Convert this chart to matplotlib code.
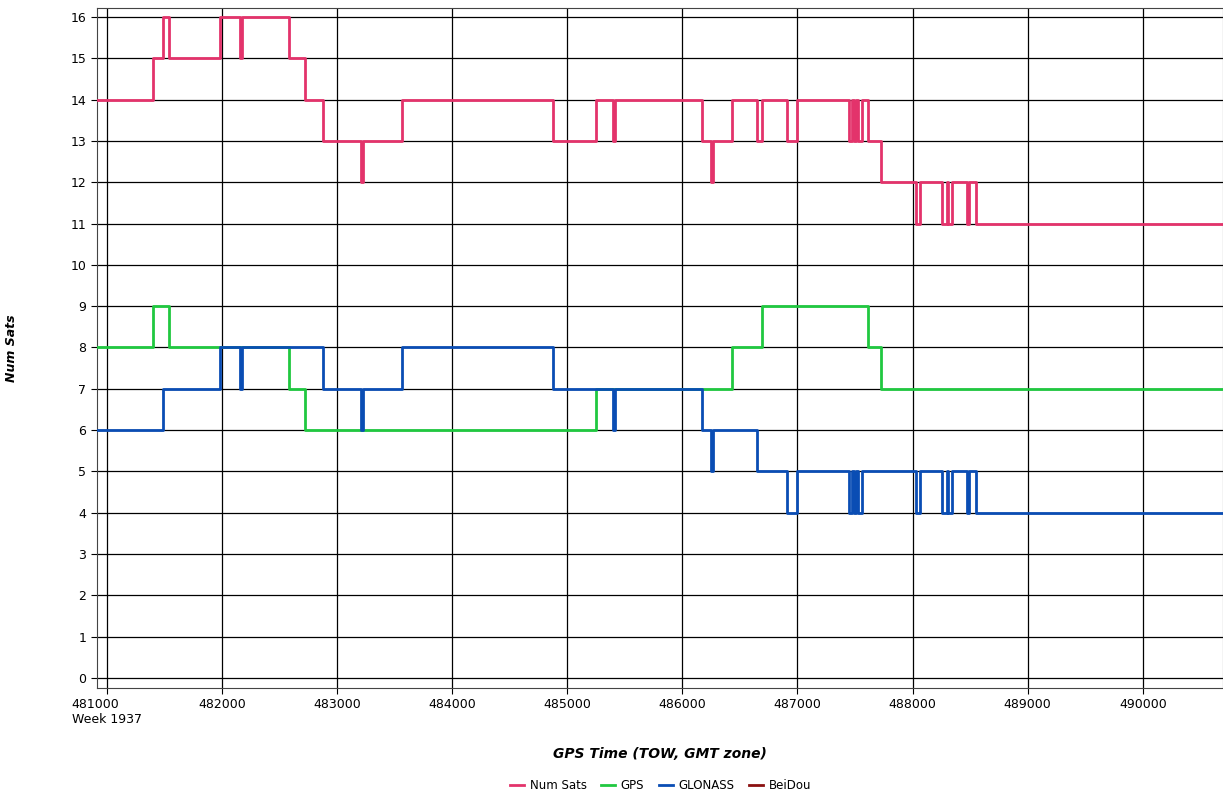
import matplotlib
matplotlib.use("Agg")
import matplotlib.pyplot as plt
import numpy as np

x_end = 490750
# GPS step breakpoints (start time, value)
gps_t = [480900, 481400, 481539, 482581, 482720, 485248, 486430, 486691, 487612, 487725]
gps_v = [8, 9, 8, 7, 6, 7, 8, 9, 8, 7]
# GLONASS step breakpoints
glo_t = [480900, 481487, 481982, 482155, 482175, 482877, 483207, 483230, 483563, 484875,
         485396, 485416, 486169, 486248, 486270, 486647, 486908, 486995,
         487447, 487473, 487490, 487510, 487525, 487560,
         488029, 488064, 488254, 488298, 488307, 488341, 488472, 488489, 488550]
glo_v = [6, 7, 8, 7, 8, 7, 6, 7, 8, 7,
         6, 7, 6, 5, 6, 5, 4, 5,
         4, 5, 4, 5, 4, 5,
         4, 5, 4, 5, 4, 5, 4, 5, 4]

def step_at(ts, vs, t):
    i = np.searchsorted(ts, t, side="right") - 1
    return np.array(vs)[i]

all_t = np.array(sorted(set(gps_t + glo_t)))
gps_all = step_at(gps_t, gps_v, all_t)
glo_all = step_at(glo_t, glo_v, all_t)
num_all = gps_all + glo_all

def ext(t, v):
    return np.append(t, x_end), np.append(v, v[-1])

fig = plt.figure(figsize=(12.23, 7.96), dpi=100)
ax = fig.add_axes([0.079, 0.136, 0.921, 0.854])
c_num, c_gps, c_glo, c_bd = "#e3336b", "#20c840", "#0a4db4", "#8b1010"
t, v = ext(all_t, num_all)
ax.step(t, v, where="post", color=c_num, lw=2, label="Num Sats", zorder=3)
t, v = ext(np.array(gps_t), np.array(gps_v))
ax.step(t, v, where="post", color=c_gps, lw=2, label="GPS", zorder=3)
t, v = ext(np.array(glo_t), np.array(glo_v))
ax.step(t, v, where="post", color=c_glo, lw=2, label="GLONASS", zorder=3)
ax.plot([], [], color=c_bd, lw=2, label="BeiDou")

ax.set_xlim(480913, 490697)
ax.set_ylim(-0.24, 16.22)
ax.set_yticks(range(0, 17))
xt = list(range(481000, 490001, 1000))
ax.set_xticks(xt)
ax.set_xticklabels(["481000\nWeek 1937"] + [str(x) for x in xt[1:]], ha="center")
ax.get_xticklabels()[0].set_multialignment("left")
ax.tick_params(labelsize=9, length=4)
ax.grid(True, color="black", lw=0.9)
ax.set_axisbelow(True)
for s in ax.spines.values():
    s.set_color("#444444")
ax.set_ylabel("Num Sats", fontsize=9, fontweight="bold", fontstyle="italic")
ax.yaxis.set_label_coords(-0.07, 0.5)
ax.set_xlabel("GPS Time (TOW, GMT zone)", fontsize=10, fontweight="bold", fontstyle="italic", labelpad=15)
fig.legend(loc="lower center", bbox_to_anchor=(0.54, -0.008), ncol=4, frameon=False,
           fontsize=8.5, handlelength=1.2, columnspacing=1.2, handletextpad=0.5)
fig.savefig("out.png", dpi=100)
